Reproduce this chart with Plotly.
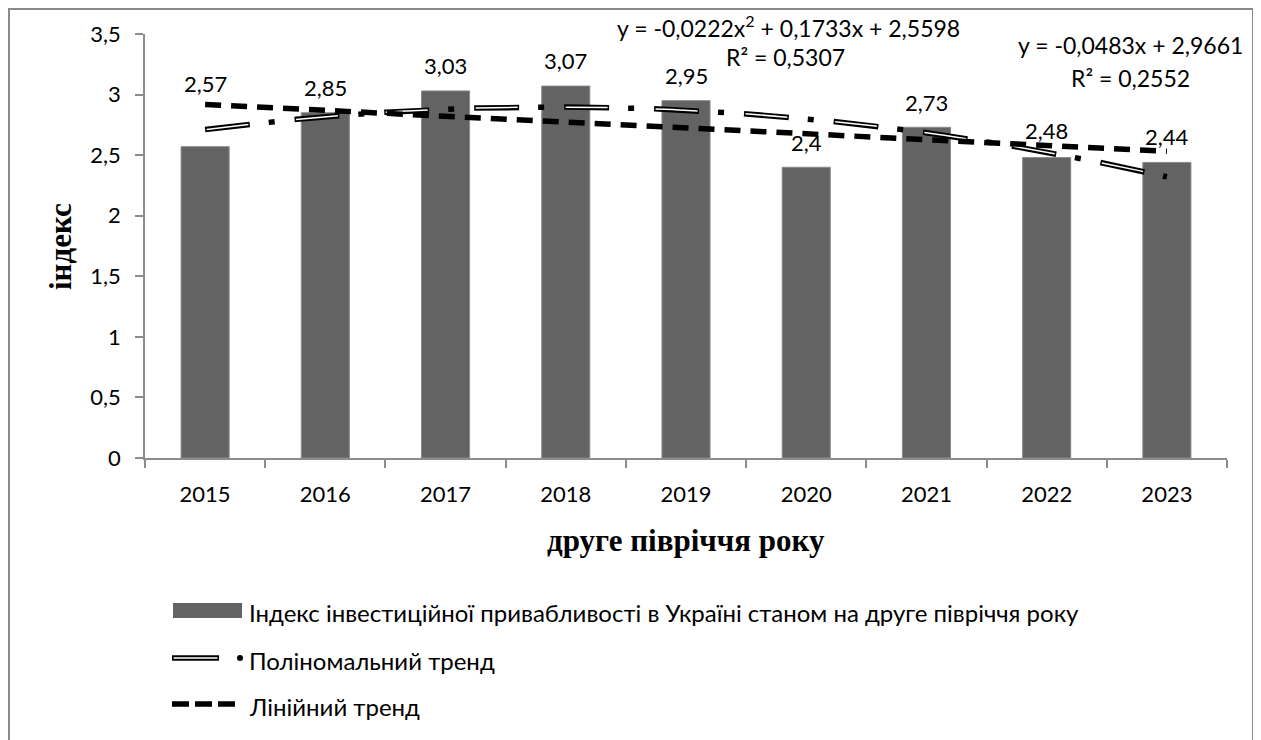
import numpy as np
import plotly.graph_objects as go

# ---- data ----
years = ["2015", "2016", "2017", "2018", "2019", "2020", "2021", "2022", "2023"]
index_values = [2.57, 2.85, 3.03, 3.07, 2.95, 2.40, 2.73, 2.48, 2.44]
value_labels = ["2,57", "2,85", "3,03", "3,07", "2,95", "2,4", "2,73", "2,48", "2,44"]
# trend coefficients shown on the chart (highest power first)
poly_coef = [-0.0222, 0.1733, 2.5598]
lin_coef = [-0.0483, 2.9661]
poly_eq = ["y = -0,0222x<sup>2</sup> + 0,1733x + 2,5598", "R² = 0,5307"]
lin_eq = ["y = -0,0483x + 2,9661", "R² = 0,2552"]
series_names = ["Індекс інвестиційної привабливості в Україні станом на друге півріччя року",
                "Поліномальний тренд", "Лінійний тренд"]
y_title = "індекс"
x_title = "друге півріччя року"

# label heights (data units) as placed in the picture
label_y = [3.09, 3.06, 3.24, 3.28, 3.16, 2.605, 2.935, 2.70, 2.65]

# ---- layout geometry (screen pixels) ----
OFF = 8  # page body margin
W, H = 1261, 740
L, R, T, B = 145, 1227, 34, 458
FONT = "Lato, 'Open Sans', sans-serif"
SERIF = "'Liberation Serif', 'Times New Roman', serif"


def px(x):
    return (x - L) / (R - L)


def py(y):
    return (B - y) / (B - T)


xpos = np.arange(1, len(years) + 1)
xs = np.linspace(1, len(years), 400)
poly_y = np.polyval(poly_coef, xs)
lin_y = np.polyval(lin_coef, xs)

fig = go.Figure()
fig.add_trace(go.Bar(x=xpos, y=index_values, marker=dict(color="#636363", line=dict(color="#8a8a8a", width=1)),
                     width=0.4, showlegend=False, hoverinfo="y"))
fig.add_trace(go.Scatter(x=xs, y=poly_y, mode="lines", showlegend=False,
                         line=dict(color="black", width=5.5, dash="45px,19px,6px,20px")))
fig.add_trace(go.Scatter(x=xs, y=poly_y, mode="lines", showlegend=False,
                         line=dict(color="white", width=1.5, dash="0px,1.5px,42px,46.5px")))
fig.add_trace(go.Scatter(x=xs, y=lin_y, mode="lines", showlegend=False,
                         line=dict(color="black", width=5.5, dash="16px,10px")))

C = dict(xanchor="center", yanchor="middle", showarrow=False)
annotations = []
for xi, lab, ly in zip(xpos, value_labels, label_y):
    annotations.append(dict(x=xi, y=ly, xref="x", yref="y", text=lab,
                            font=dict(size=22, color="black", family=FONT), **C))

# equations
for (ex, ey), txt in zip([(788, 27), (785, 57), (1130, 45), (1130, 78)],
                         [poly_eq[0], poly_eq[1], lin_eq[0], lin_eq[1]]):
    annotations.append(dict(x=px(ex), y=py(ey), xref="paper", yref="paper", text=txt,
                            font=dict(size=23, color="black", family=FONT), **C))

# axis titles
annotations.append(dict(x=px(60), y=py(247), xref="paper", yref="paper", text=f"<b>{y_title}</b>",
                        textangle=-90, font=dict(size=31, color="black", family=SERIF), **C))
annotations.append(dict(x=px(686), y=py(540), xref="paper", yref="paper", text=f"<b>{x_title}</b>",
                        font=dict(size=31, color="black", family=SERIF), **C))

# legend texts
for name, ly in zip(series_names, [612, 660, 706]):
    annotations.append(dict(x=px(247), y=py(ly), xref="paper", yref="paper", text=name,
                            xanchor="left", yanchor="middle", showarrow=False,
                            font=dict(size=24, color="black", family=FONT)))

shapes = [
    # outer chart border
    dict(type="rect", xref="paper", yref="paper", x0=px(9), x1=px(1253), y0=py(760), y1=py(9),
         line=dict(color="#8a8a8a", width=2), layer="below"),
    # legend symbols
    dict(type="rect", xref="paper", yref="paper", x0=px(173), x1=px(242), y0=py(618), y1=py(603),
         fillcolor="#636363", line=dict(width=0)),
    dict(type="line", xref="paper", yref="paper", x0=px(172), x1=px(219), y0=py(658), y1=py(658),
         line=dict(color="black", width=5.5)),
    dict(type="line", xref="paper", yref="paper", x0=px(173.5), x1=px(217.5), y0=py(658), y1=py(658),
         line=dict(color="white", width=1.5)),
    dict(type="circle", xref="paper", yref="paper", x0=px(237), x1=px(243), y0=py(661), y1=py(655),
         fillcolor="black", line=dict(width=0)),
    dict(type="line", xref="paper", yref="paper", x0=px(172), x1=px(236), y0=py(704), y1=py(704),
         line=dict(color="black", width=5.5, dash="17px,6px")),
]

fig.update_layout(
    width=W - OFF, height=H - OFF,
    margin=dict(l=L - OFF, r=W - R, t=T - OFF, b=H - B, pad=0),
    paper_bgcolor="white", plot_bgcolor="white",
    separators=", ",
    showlegend=False,
    bargap=0.6,
    font=dict(family=FONT, size=22, color="black"),
    annotations=annotations,
    shapes=shapes,
    xaxis=dict(range=[0.5, len(years) + 0.5], tickvals=list(xpos), ticktext=years,
               ticks="outside", ticklen=0, showgrid=False, zeroline=False,
               showline=True, linecolor="#8c8c8c", linewidth=1.5,
               ticklabelstandoff=16,
               tickfont=dict(size=22, family=FONT, color="black"),
               minor=dict(tickmode="linear", tick0=0.5, dtick=1, ticks="outside", ticklen=8,
                          tickcolor="#8c8c8c", tickwidth=1.5, showgrid=False)),
    yaxis=dict(range=[0, 3.5], dtick=0.5, tickformat=".1~f", ticks="outside", ticklen=8,
               tickcolor="#8c8c8c", tickwidth=1.5, showgrid=False, zeroline=False,
               showline=True, linecolor="#8c8c8c", linewidth=1.5, ticklabelstandoff=10,
               tickfont=dict(size=22, family=FONT, color="black")),
)

fig.write_html("out.html")
